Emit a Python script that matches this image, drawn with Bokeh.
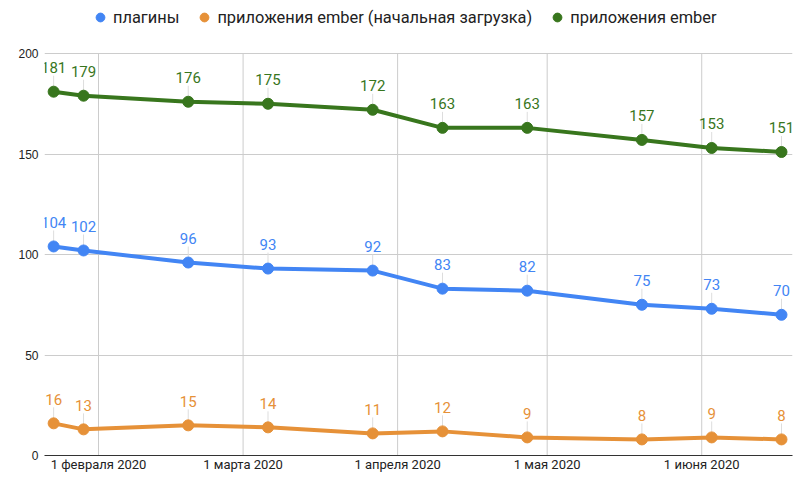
import math
import pandas as pd
from bokeh.plotting import figure
from bokeh.models import ColumnDataSource, FixedTicker, Legend, LegendItem, Range1d
from bokeh.core.properties import value
from bokeh.embed import file_html
from bokeh.resources import INLINE

# ---- data ----
dates = ["2020-01-23", "2020-01-29", "2020-02-19", "2020-03-06", "2020-03-27",
         "2020-04-10", "2020-04-27", "2020-05-20", "2020-06-03", "2020-06-17"]
plugins = [104, 102, 96, 93, 92, 83, 82, 75, 73, 70]
apps_initial = [16, 13, 15, 14, 11, 12, 9, 8, 9, 8]
apps = [181, 179, 176, 175, 172, 163, 163, 157, 153, 151]
series_names = ["плагины", "приложения ember (начальная загрузка)", "приложения ember"]
series_colors = ["#4285f4", "#e69138", "#38761d"]
tick_dates = ["2020-02-01", "2020-03-01", "2020-04-01", "2020-05-01", "2020-06-01"]
tick_labels = ["1 февраля 2020", "1 марта 2020", "1 апреля 2020", "1 мая 2020", "1 июня 2020"]
y_ticks = [0, 50, 100, 150, 200]
y_max = 200

x = pd.to_datetime(dates)
tick_x = pd.to_datetime(tick_dates)

# frame spans the whole height; the area above y_max holds the legend
p = figure(frame_width=748, frame_height=455,
           min_border_left=44, min_border_right=17, min_border_top=0, min_border_bottom=27,
           x_axis_type="datetime", output_backend="svg", toolbar_location=None,
           x_range=Range1d(pd.Timestamp("2020-01-21 04:00"), pd.Timestamp("2020-06-19 05:00")),
           y_range=Range1d(0, y_max * 455 / 402))
p.outline_line_color = None
p.background_fill_color = "white"

tick_ms = [pd.Timestamp(d).value // 10**6 for d in tick_dates]
p.xaxis.ticker = FixedTicker(ticks=tick_ms)
p.xaxis.major_label_overrides = {t: lab for t, lab in zip(tick_ms, tick_labels)}
p.xgrid.visible = False
p.yaxis.ticker = FixedTicker(ticks=y_ticks)
p.ygrid.ticker = FixedTicker(ticks=y_ticks)
p.ygrid.grid_line_color = "#cccccc"

# vertical grid lines, only up to the top value
p.segment(x0=tick_x, x1=tick_x, y0=[0] * len(tick_x), y1=[y_max] * len(tick_x),
          line_color="#cccccc", line_width=1)

p.xaxis.axis_line_color = "#333333"
p.xaxis.major_tick_out = 0
p.xaxis.major_tick_in = 0
p.xaxis.minor_tick_out = 0
p.xaxis.minor_tick_in = 0
p.xaxis.major_label_standoff = 1
p.xaxis.major_label_text_font = "Roboto"
p.xaxis.major_label_text_font_size = "13px"
p.xaxis.major_label_text_color = "#222222"

p.yaxis.axis_line_color = None
p.yaxis.major_tick_out = 0
p.yaxis.major_tick_in = 0
p.yaxis.minor_tick_out = 0
p.yaxis.minor_tick_in = 0
p.yaxis.major_label_standoff = 6
p.yaxis.major_label_text_font = "Liberation Sans"
p.yaxis.major_label_text_font_size = "12px"
p.yaxis.major_label_text_color = "#222222"

items = []
for name, vals, col in zip(series_names, [plugins, apps_initial, apps], series_colors):
    src = ColumnDataSource(dict(x=x, y=vals, label=[str(v) for v in vals]))
    p.ray("x", "y", source=src, length=16, length_units="screen", angle=math.pi / 2,
          line_color="#dddddd", line_width=1)
    p.line("x", "y", source=src, line_color=col, line_width=4)
    r = p.scatter("x", "y", source=src, size=11, fill_color=col, line_color=col)
    p.text("x", "y", text="label", source=src, text_font=value("Roboto"), text_font_size="15px",
           text_color=col, text_align="center", text_baseline="middle", y_offset=-24)
    items.append(LegendItem(label=name, renderers=[r]))

legend = Legend(items=items, orientation="horizontal", location=(45, 426),
                glyph_width=22, glyph_height=24, label_height=24, label_standoff=2, spacing=14,
                padding=0, margin=0, border_line_color=None, background_fill_alpha=0,
                label_text_font="Roboto", label_text_font_size="16.4px", label_text_color="#222222")
p.add_layout(legend, "center")

open("out.html", "w").write(file_html(p, INLINE))
